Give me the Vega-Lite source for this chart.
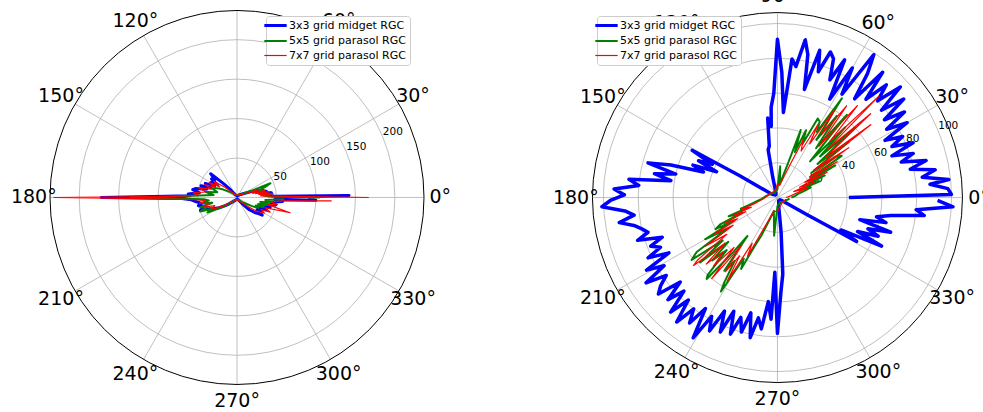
{
"$schema":"https://vega.github.io/schema/vega-lite/v6.json",
"width":983,"height":412,"autosize":{"type":"none"},"padding":0,
"config":{"view":{"stroke":null},"font":"DejaVu Sans","text":{"font":"DejaVu Sans","color":"#000000"}},
"datasets":{
"gL":[{"v":50},{"v":100},{"v":150},{"v":200}],
"gR":[{"v":20},{"v":40},{"v":60},{"v":80},{"v":100}],
"sp":[{"a":0},{"a":30},{"a":60},{"a":90},{"a":120},{"a":150},{"a":180},{"a":210},{"a":240},{"a":270},{"a":300},{"a":330}],
"lab":[{"a":0,"t":"0°"},{"a":30,"t":"30°"},{"a":60,"t":"60°"},{"a":90,"t":"90°"},{"a":120,"t":"120°"},{"a":150,"t":"150°"},{"a":180,"t":"180°"},{"a":210,"t":"210°"},{"a":240,"t":"240°"},{"a":270,"t":"270°"},{"a":300,"t":"300°"},{"a":330,"t":"330°"}],
"d":[
{"p":"L","s":"b","a":0,"r":50},{"p":"L","s":"b","a":1,"r":142},{"p":"L","s":"b","a":2,"r":48},{"p":"L","s":"b","a":4,"r":40},{"p":"L","s":"b","a":6,"r":36},{"p":"L","s":"b","a":8,"r":44},{"p":"L","s":"b","a":10,"r":30},{"p":"L","s":"b","a":12,"r":38},{"p":"L","s":"b","a":14,"r":26},{"p":"L","s":"b","a":16,"r":34},{"p":"L","s":"b","a":18,"r":22},{"p":"L","s":"b","a":20,"r":28},{"p":"L","s":"b","a":24,"r":16},{"p":"L","s":"b","a":30,"r":10},{"p":"L","s":"b","a":40,"r":6},{"p":"L","s":"b","a":60,"r":3},{"p":"L","s":"b","a":90,"r":2},{"p":"L","s":"b","a":120,"r":4},{"p":"L","s":"b","a":130,"r":12},{"p":"L","s":"b","a":134,"r":24},{"p":"L","s":"b","a":138,"r":45},{"p":"L","s":"b","a":141,"r":36},{"p":"L","s":"b","a":144,"r":40},{"p":"L","s":"b","a":147,"r":30},{"p":"L","s":"b","a":150,"r":38},{"p":"L","s":"b","a":153,"r":32},{"p":"L","s":"b","a":156,"r":44},{"p":"L","s":"b","a":159,"r":36},{"p":"L","s":"b","a":162,"r":48},{"p":"L","s":"b","a":165,"r":40},{"p":"L","s":"b","a":168,"r":54},{"p":"L","s":"b","a":170,"r":57},{"p":"L","s":"b","a":173,"r":48},{"p":"L","s":"b","a":176,"r":62},{"p":"L","s":"b","a":178,"r":60},{"p":"L","s":"b","a":179,"r":90},{"p":"L","s":"b","a":180,"r":172},{"p":"L","s":"b","a":181,"r":70},{"p":"L","s":"b","a":183,"r":58},{"p":"L","s":"b","a":186,"r":52},{"p":"L","s":"b","a":189,"r":46},{"p":"L","s":"b","a":192,"r":50},{"p":"L","s":"b","a":195,"r":42},{"p":"L","s":"b","a":199,"r":49},{"p":"L","s":"b","a":202,"r":38},{"p":"L","s":"b","a":206,"r":32},{"p":"L","s":"b","a":210,"r":26},{"p":"L","s":"b","a":215,"r":18},{"p":"L","s":"b","a":220,"r":12},{"p":"L","s":"b","a":230,"r":6},{"p":"L","s":"b","a":250,"r":3},{"p":"L","s":"b","a":280,"r":2},{"p":"L","s":"b","a":300,"r":4},{"p":"L","s":"b","a":310,"r":10},{"p":"L","s":"b","a":315,"r":22},{"p":"L","s":"b","a":320,"r":30},{"p":"L","s":"b","a":323,"r":34},{"p":"L","s":"b","a":325,"r":39},{"p":"L","s":"b","a":328,"r":30},{"p":"L","s":"b","a":331,"r":36},{"p":"L","s":"b","a":334,"r":28},{"p":"L","s":"b","a":337,"r":40},{"p":"L","s":"b","a":340,"r":34},{"p":"L","s":"b","a":343,"r":44},{"p":"L","s":"b","a":346,"r":38},{"p":"L","s":"b","a":349,"r":50},{"p":"L","s":"b","a":352,"r":44},{"p":"L","s":"b","a":355,"r":58},{"p":"L","s":"b","a":357,"r":48},{"p":"L","s":"b","a":358,"r":100},{"p":"L","s":"b","a":359,"r":90},
{"p":"L","s":"g","a":0,"r":105},{"p":"L","s":"g","a":2,"r":40},{"p":"L","s":"g","a":4,"r":34},{"p":"L","s":"g","a":6,"r":44},{"p":"L","s":"g","a":8,"r":30},{"p":"L","s":"g","a":10,"r":38},{"p":"L","s":"g","a":12,"r":28},{"p":"L","s":"g","a":15,"r":36},{"p":"L","s":"g","a":18,"r":30},{"p":"L","s":"g","a":21,"r":40},{"p":"L","s":"g","a":23,"r":46},{"p":"L","s":"g","a":25,"r":20},{"p":"L","s":"g","a":30,"r":12},{"p":"L","s":"g","a":40,"r":6},{"p":"L","s":"g","a":60,"r":4},{"p":"L","s":"g","a":90,"r":3},{"p":"L","s":"g","a":120,"r":4},{"p":"L","s":"g","a":140,"r":10},{"p":"L","s":"g","a":150,"r":20},{"p":"L","s":"g","a":155,"r":28},{"p":"L","s":"g","a":160,"r":34},{"p":"L","s":"g","a":165,"r":26},{"p":"L","s":"g","a":170,"r":40},{"p":"L","s":"g","a":174,"r":30},{"p":"L","s":"g","a":177,"r":48},{"p":"L","s":"g","a":180,"r":135},{"p":"L","s":"g","a":183,"r":42},{"p":"L","s":"g","a":186,"r":36},{"p":"L","s":"g","a":189,"r":44},{"p":"L","s":"g","a":192,"r":32},{"p":"L","s":"g","a":195,"r":48},{"p":"L","s":"g","a":198,"r":40},{"p":"L","s":"g","a":201,"r":50},{"p":"L","s":"g","a":204,"r":36},{"p":"L","s":"g","a":207,"r":42},{"p":"L","s":"g","a":210,"r":30},{"p":"L","s":"g","a":214,"r":20},{"p":"L","s":"g","a":220,"r":10},{"p":"L","s":"g","a":240,"r":4},{"p":"L","s":"g","a":270,"r":3},{"p":"L","s":"g","a":300,"r":4},{"p":"L","s":"g","a":320,"r":10},{"p":"L","s":"g","a":330,"r":22},{"p":"L","s":"g","a":334,"r":30},{"p":"L","s":"g","a":337,"r":26},{"p":"L","s":"g","a":340,"r":36},{"p":"L","s":"g","a":343,"r":28},{"p":"L","s":"g","a":346,"r":40},{"p":"L","s":"g","a":349,"r":30},{"p":"L","s":"g","a":352,"r":44},{"p":"L","s":"g","a":355,"r":36},{"p":"L","s":"g","a":358,"r":60},
{"p":"L","s":"r","a":0,"r":167},{"p":"L","s":"r","a":2,"r":50},{"p":"L","s":"r","a":4,"r":30},{"p":"L","s":"r","a":6,"r":46},{"p":"L","s":"r","a":8,"r":28},{"p":"L","s":"r","a":10,"r":42},{"p":"L","s":"r","a":12,"r":24},{"p":"L","s":"r","a":14,"r":36},{"p":"L","s":"r","a":17,"r":20},{"p":"L","s":"r","a":20,"r":30},{"p":"L","s":"r","a":24,"r":14},{"p":"L","s":"r","a":30,"r":8},{"p":"L","s":"r","a":45,"r":5},{"p":"L","s":"r","a":70,"r":3},{"p":"L","s":"r","a":100,"r":3},{"p":"L","s":"r","a":130,"r":6},{"p":"L","s":"r","a":140,"r":20},{"p":"L","s":"r","a":145,"r":36},{"p":"L","s":"r","a":148,"r":26},{"p":"L","s":"r","a":152,"r":40},{"p":"L","s":"r","a":155,"r":30},{"p":"L","s":"r","a":158,"r":44},{"p":"L","s":"r","a":162,"r":34},{"p":"L","s":"r","a":166,"r":50},{"p":"L","s":"r","a":170,"r":40},{"p":"L","s":"r","a":174,"r":56},{"p":"L","s":"r","a":177,"r":48},{"p":"L","s":"r","a":179,"r":80},{"p":"L","s":"r","a":180,"r":232},{"p":"L","s":"r","a":181,"r":100},{"p":"L","s":"r","a":183,"r":52},{"p":"L","s":"r","a":186,"r":40},{"p":"L","s":"r","a":189,"r":48},{"p":"L","s":"r","a":192,"r":36},{"p":"L","s":"r","a":196,"r":44},{"p":"L","s":"r","a":200,"r":30},{"p":"L","s":"r","a":205,"r":36},{"p":"L","s":"r","a":210,"r":22},{"p":"L","s":"r","a":220,"r":10},{"p":"L","s":"r","a":240,"r":4},{"p":"L","s":"r","a":280,"r":3},{"p":"L","s":"r","a":310,"r":8},{"p":"L","s":"r","a":320,"r":18},{"p":"L","s":"r","a":325,"r":30},{"p":"L","s":"r","a":330,"r":40},{"p":"L","s":"r","a":333,"r":34},{"p":"L","s":"r","a":336,"r":46},{"p":"L","s":"r","a":340,"r":38},{"p":"L","s":"r","a":344,"r":70},{"p":"L","s":"r","a":347,"r":40},{"p":"L","s":"r","a":350,"r":52},{"p":"L","s":"r","a":353,"r":44},{"p":"L","s":"r","a":356,"r":60},{"p":"L","s":"r","a":358,"r":120},
{"p":"R","s":"b","a":0,"r":41},{"p":"R","s":"b","a":1,"r":100},{"p":"R","s":"b","a":3,"r":98},{"p":"R","s":"b","a":5,"r":88},{"p":"R","s":"b","a":6,"r":99},{"p":"R","s":"b","a":8,"r":84},{"p":"R","s":"b","a":10,"r":92},{"p":"R","s":"b","a":12,"r":78},{"p":"R","s":"b","a":14,"r":88},{"p":"R","s":"b","a":16,"r":74},{"p":"R","s":"b","a":18,"r":82},{"p":"R","s":"b","a":20,"r":70},{"p":"R","s":"b","a":22,"r":84},{"p":"R","s":"b","a":24,"r":72},{"p":"R","s":"b","a":26,"r":80},{"p":"R","s":"b","a":28,"r":70},{"p":"R","s":"b","a":30,"r":86},{"p":"R","s":"b","a":32,"r":74},{"p":"R","s":"b","a":34,"r":88},{"p":"R","s":"b","a":36,"r":76},{"p":"R","s":"b","a":38,"r":92},{"p":"R","s":"b","a":40,"r":78},{"p":"R","s":"b","a":42,"r":95},{"p":"R","s":"b","a":44,"r":80},{"p":"R","s":"b","a":46,"r":90},{"p":"R","s":"b","a":48,"r":76},{"p":"R","s":"b","a":50,"r":94},{"p":"R","s":"b","a":52,"r":72},{"p":"R","s":"b","a":54,"r":88},{"p":"R","s":"b","a":56,"r":99},{"p":"R","s":"b","a":58,"r":70},{"p":"R","s":"b","a":60,"r":86},{"p":"R","s":"b","a":62,"r":64},{"p":"R","s":"b","a":64,"r":88},{"p":"R","s":"b","a":66,"r":74},{"p":"R","s":"b","a":68,"r":86},{"p":"R","s":"b","a":70,"r":89},{"p":"R","s":"b","a":72,"r":76},{"p":"R","s":"b","a":74,"r":88},{"p":"R","s":"b","a":76,"r":64},{"p":"R","s":"b","a":78,"r":84},{"p":"R","s":"b","a":80,"r":92},{"p":"R","s":"b","a":82,"r":76},{"p":"R","s":"b","a":84,"r":80},{"p":"R","s":"b","a":86,"r":49},{"p":"R","s":"b","a":88,"r":72},{"p":"R","s":"b","a":90,"r":91},{"p":"R","s":"b","a":92,"r":60},{"p":"R","s":"b","a":94,"r":52},{"p":"R","s":"b","a":95,"r":41},{"p":"R","s":"b","a":97,"r":46},{"p":"R","s":"b","a":99,"r":30},{"p":"R","s":"b","a":101,"r":28},{"p":"R","s":"b","a":103,"r":12},{"p":"R","s":"b","a":105,"r":5},{"p":"R","s":"b","a":110,"r":3},{"p":"R","s":"b","a":115,"r":2},{"p":"R","s":"b","a":120,"r":3},{"p":"R","s":"b","a":125,"r":2},{"p":"R","s":"b","a":130,"r":3},{"p":"R","s":"b","a":135,"r":2},{"p":"R","s":"b","a":140,"r":3},{"p":"R","s":"b","a":145,"r":3},{"p":"R","s":"b","a":149,"r":4},{"p":"R","s":"b","a":150,"r":25},{"p":"R","s":"b","a":151,"r":56},{"p":"R","s":"b","a":153,"r":42},{"p":"R","s":"b","a":155,"r":50},{"p":"R","s":"b","a":157,"r":38},{"p":"R","s":"b","a":159,"r":52},{"p":"R","s":"b","a":161,"r":45},{"p":"R","s":"b","a":163,"r":64},{"p":"R","s":"b","a":165,"r":77},{"p":"R","s":"b","a":167,"r":60},{"p":"R","s":"b","a":169,"r":72},{"p":"R","s":"b","a":171,"r":62},{"p":"R","s":"b","a":173,"r":86},{"p":"R","s":"b","a":175,"r":80},{"p":"R","s":"b","a":177,"r":94},{"p":"R","s":"b","a":179,"r":88},{"p":"R","s":"b","a":181,"r":96},{"p":"R","s":"b","a":183,"r":101},{"p":"R","s":"b","a":185,"r":88},{"p":"R","s":"b","a":187,"r":83},{"p":"R","s":"b","a":189,"r":92},{"p":"R","s":"b","a":191,"r":84},{"p":"R","s":"b","a":193,"r":80},{"p":"R","s":"b","a":195,"r":77},{"p":"R","s":"b","a":197,"r":84},{"p":"R","s":"b","a":199,"r":70},{"p":"R","s":"b","a":201,"r":78},{"p":"R","s":"b","a":203,"r":73},{"p":"R","s":"b","a":205,"r":82},{"p":"R","s":"b","a":207,"r":70},{"p":"R","s":"b","a":209,"r":86},{"p":"R","s":"b","a":211,"r":76},{"p":"R","s":"b","a":213,"r":90},{"p":"R","s":"b","a":215,"r":78},{"p":"R","s":"b","a":217,"r":84},{"p":"R","s":"b","a":219,"r":88},{"p":"R","s":"b","a":221,"r":74},{"p":"R","s":"b","a":223,"r":86},{"p":"R","s":"b","a":225,"r":76},{"p":"R","s":"b","a":227,"r":90},{"p":"R","s":"b","a":229,"r":78},{"p":"R","s":"b","a":231,"r":92},{"p":"R","s":"b","a":233,"r":80},{"p":"R","s":"b","a":235,"r":88},{"p":"R","s":"b","a":237,"r":76},{"p":"R","s":"b","a":239,"r":94},{"p":"R","s":"b","a":241,"r":78},{"p":"R","s":"b","a":243,"r":86},{"p":"R","s":"b","a":245,"r":72},{"p":"R","s":"b","a":247,"r":84},{"p":"R","s":"b","a":249,"r":70},{"p":"R","s":"b","a":251,"r":83},{"p":"R","s":"b","a":253,"r":72},{"p":"R","s":"b","a":255,"r":80},{"p":"R","s":"b","a":257,"r":68},{"p":"R","s":"b","a":259,"r":82},{"p":"R","s":"b","a":261,"r":70},{"p":"R","s":"b","a":263,"r":76},{"p":"R","s":"b","a":265,"r":60},{"p":"R","s":"b","a":267,"r":70},{"p":"R","s":"b","a":268,"r":43},{"p":"R","s":"b","a":270,"r":78},{"p":"R","s":"b","a":272,"r":55},{"p":"R","s":"b","a":274,"r":44},{"p":"R","s":"b","a":276,"r":20},{"p":"R","s":"b","a":278,"r":5},{"p":"R","s":"b","a":285,"r":3},{"p":"R","s":"b","a":290,"r":2},{"p":"R","s":"b","a":295,"r":3},{"p":"R","s":"b","a":300,"r":2},{"p":"R","s":"b","a":305,"r":3},{"p":"R","s":"b","a":310,"r":2},{"p":"R","s":"b","a":315,"r":3},{"p":"R","s":"b","a":320,"r":2},{"p":"R","s":"b","a":325,"r":3},{"p":"R","s":"b","a":330,"r":20},{"p":"R","s":"b","a":331,"r":52},{"p":"R","s":"b","a":333,"r":41},{"p":"R","s":"b","a":335,"r":66},{"p":"R","s":"b","a":337,"r":50},{"p":"R","s":"b","a":339,"r":62},{"p":"R","s":"b","a":341,"r":55},{"p":"R","s":"b","a":343,"r":68},{"p":"R","s":"b","a":345,"r":49},{"p":"R","s":"b","a":347,"r":64},{"p":"R","s":"b","a":349,"r":58},{"p":"R","s":"b","a":351,"r":66},{"p":"R","s":"b","a":353,"r":85},{"p":"R","s":"b","a":355,"r":80},{"p":"R","s":"b","a":357,"r":101},{"p":"R","s":"b","a":359,"r":92},
{"p":"R","s":"g","a":0,"r":8},{"p":"R","s":"g","a":5,"r":10},{"p":"R","s":"g","a":10,"r":12},{"p":"R","s":"g","a":14,"r":16},{"p":"R","s":"g","a":17,"r":20},{"p":"R","s":"g","a":19,"r":14},{"p":"R","s":"g","a":21,"r":26},{"p":"R","s":"g","a":23,"r":18},{"p":"R","s":"g","a":25,"r":30},{"p":"R","s":"g","a":27,"r":20},{"p":"R","s":"g","a":29,"r":38},{"p":"R","s":"g","a":31,"r":22},{"p":"R","s":"g","a":33,"r":44},{"p":"R","s":"g","a":35,"r":41},{"p":"R","s":"g","a":36,"r":24},{"p":"R","s":"g","a":38,"r":52},{"p":"R","s":"g","a":40,"r":30},{"p":"R","s":"g","a":42,"r":60},{"p":"R","s":"g","a":44,"r":34},{"p":"R","s":"g","a":46,"r":56},{"p":"R","s":"g","a":48,"r":28},{"p":"R","s":"g","a":50,"r":62},{"p":"R","s":"g","a":52,"r":36},{"p":"R","s":"g","a":54,"r":58},{"p":"R","s":"g","a":56,"r":40},{"p":"R","s":"g","a":57,"r":68},{"p":"R","s":"g","a":59,"r":44},{"p":"R","s":"g","a":61,"r":50},{"p":"R","s":"g","a":63,"r":51},{"p":"R","s":"g","a":65,"r":34},{"p":"R","s":"g","a":67,"r":42},{"p":"R","s":"g","a":69,"r":28},{"p":"R","s":"g","a":71,"r":41},{"p":"R","s":"g","a":73,"r":20},{"p":"R","s":"g","a":75,"r":14},{"p":"R","s":"g","a":80,"r":8},{"p":"R","s":"g","a":85,"r":18},{"p":"R","s":"g","a":90,"r":5},{"p":"R","s":"g","a":100,"r":4},{"p":"R","s":"g","a":120,"r":3},{"p":"R","s":"g","a":140,"r":4},{"p":"R","s":"g","a":160,"r":5},{"p":"R","s":"g","a":175,"r":7},{"p":"R","s":"g","a":185,"r":9},{"p":"R","s":"g","a":190,"r":12},{"p":"R","s":"g","a":194,"r":16},{"p":"R","s":"g","a":197,"r":22},{"p":"R","s":"g","a":199,"r":18},{"p":"R","s":"g","a":201,"r":30},{"p":"R","s":"g","a":203,"r":22},{"p":"R","s":"g","a":205,"r":36},{"p":"R","s":"g","a":207,"r":40},{"p":"R","s":"g","a":208,"r":28},{"p":"R","s":"g","a":210,"r":48},{"p":"R","s":"g","a":212,"r":34},{"p":"R","s":"g","a":214,"r":56},{"p":"R","s":"g","a":216,"r":61},{"p":"R","s":"g","a":218,"r":40},{"p":"R","s":"g","a":220,"r":58},{"p":"R","s":"g","a":222,"r":38},{"p":"R","s":"g","a":224,"r":52},{"p":"R","s":"g","a":226,"r":42},{"p":"R","s":"g","a":228,"r":60},{"p":"R","s":"g","a":229,"r":62},{"p":"R","s":"g","a":231,"r":40},{"p":"R","s":"g","a":232,"r":28},{"p":"R","s":"g","a":234,"r":52},{"p":"R","s":"g","a":236,"r":44},{"p":"R","s":"g","a":238,"r":58},{"p":"R","s":"g","a":239,"r":63},{"p":"R","s":"g","a":241,"r":40},{"p":"R","s":"g","a":243,"r":46},{"p":"R","s":"g","a":245,"r":30},{"p":"R","s":"g","a":247,"r":24},{"p":"R","s":"g","a":250,"r":14},{"p":"R","s":"g","a":255,"r":8},{"p":"R","s":"g","a":265,"r":22},{"p":"R","s":"g","a":270,"r":5},{"p":"R","s":"g","a":280,"r":4},{"p":"R","s":"g","a":300,"r":3},{"p":"R","s":"g","a":320,"r":4},{"p":"R","s":"g","a":340,"r":5},{"p":"R","s":"g","a":355,"r":7},
{"p":"R","s":"r","a":0,"r":5},{"p":"R","s":"r","a":8,"r":8},{"p":"R","s":"r","a":14,"r":12},{"p":"R","s":"r","a":18,"r":18},{"p":"R","s":"r","a":20,"r":10},{"p":"R","s":"r","a":23,"r":24},{"p":"R","s":"r","a":25,"r":14},{"p":"R","s":"r","a":27,"r":32},{"p":"R","s":"r","a":29,"r":18},{"p":"R","s":"r","a":31,"r":40},{"p":"R","s":"r","a":33,"r":22},{"p":"R","s":"r","a":35,"r":50},{"p":"R","s":"r","a":37,"r":26},{"p":"R","s":"r","a":38,"r":68},{"p":"R","s":"r","a":40,"r":36},{"p":"R","s":"r","a":42,"r":72},{"p":"R","s":"r","a":44,"r":40},{"p":"R","s":"r","a":45,"r":82},{"p":"R","s":"r","a":47,"r":44},{"p":"R","s":"r","a":49,"r":70},{"p":"R","s":"r","a":51,"r":38},{"p":"R","s":"r","a":53,"r":66},{"p":"R","s":"r","a":55,"r":44},{"p":"R","s":"r","a":57,"r":60},{"p":"R","s":"r","a":59,"r":36},{"p":"R","s":"r","a":61,"r":48},{"p":"R","s":"r","a":63,"r":30},{"p":"R","s":"r","a":66,"r":36},{"p":"R","s":"r","a":69,"r":20},{"p":"R","s":"r","a":73,"r":12},{"p":"R","s":"r","a":80,"r":7},{"p":"R","s":"r","a":90,"r":8},{"p":"R","s":"r","a":100,"r":5},{"p":"R","s":"r","a":120,"r":4},{"p":"R","s":"r","a":150,"r":5},{"p":"R","s":"r","a":170,"r":6},{"p":"R","s":"r","a":185,"r":8},{"p":"R","s":"r","a":190,"r":10},{"p":"R","s":"r","a":195,"r":14},{"p":"R","s":"r","a":198,"r":22},{"p":"R","s":"r","a":200,"r":16},{"p":"R","s":"r","a":202,"r":28},{"p":"R","s":"r","a":204,"r":20},{"p":"R","s":"r","a":206,"r":34},{"p":"R","s":"r","a":208,"r":26},{"p":"R","s":"r","a":210,"r":42},{"p":"R","s":"r","a":212,"r":30},{"p":"R","s":"r","a":214,"r":50},{"p":"R","s":"r","a":216,"r":36},{"p":"R","s":"r","a":218,"r":58},{"p":"R","s":"r","a":219,"r":62},{"p":"R","s":"r","a":221,"r":40},{"p":"R","s":"r","a":223,"r":56},{"p":"R","s":"r","a":225,"r":44},{"p":"R","s":"r","a":227,"r":54},{"p":"R","s":"r","a":229,"r":38},{"p":"R","s":"r","a":231,"r":60},{"p":"R","s":"r","a":233,"r":34},{"p":"R","s":"r","a":235,"r":52},{"p":"R","s":"r","a":237,"r":40},{"p":"R","s":"r","a":239,"r":56},{"p":"R","s":"r","a":241,"r":30},{"p":"R","s":"r","a":243,"r":38},{"p":"R","s":"r","a":246,"r":20},{"p":"R","s":"r","a":250,"r":12},{"p":"R","s":"r","a":256,"r":8},{"p":"R","s":"r","a":270,"r":8},{"p":"R","s":"r","a":290,"r":5},{"p":"R","s":"r","a":320,"r":4},{"p":"R","s":"r","a":350,"r":5}
]},
"layer":[
{"layer":[
 {"data":{"name":"gL"},"mark":{"type":"arc","filled":false,"stroke":"#b0b0b0","strokeWidth":0.8,"theta":0,"theta2":6.2832},
  "encoding":{"x":{"datum":0,"type":"quantitative","scale":{"domain":[-300.4,945.5],"nice":false,"zero":false},"axis":null},"y":{"datum":0,"type":"quantitative","scale":{"domain":[-271.9,250.3],"nice":false,"zero":false},"axis":null},"radius":{"field":"v","type":"quantitative","stack":null,"scale":{"type":"linear","domain":[0,237],"range":[0,187],"nice":false,"zero":true}}}},
 {"data":{"name":"sp"},"transform":[{"calculate":"0","as":"z"},{"calculate":"237*cos(datum.a*PI/180)","as":"ex"},{"calculate":"237*sin(datum.a*PI/180)","as":"ey"}],"mark":{"type":"rule","stroke":"#b0b0b0","strokeWidth":0.8},
  "encoding":{"x":{"field":"z","type":"quantitative"},"y":{"field":"z","type":"quantitative"},"x2":{"field":"ex"},"y2":{"field":"ey"}}},
 {"data":{"values":[{"v":237}]},"mark":{"type":"arc","filled":false,"stroke":"#000000","strokeWidth":1,"theta":0,"theta2":6.2832},
  "encoding":{"x":{"datum":0,"type":"quantitative"},"y":{"datum":0,"type":"quantitative"},"radius":{"field":"v","type":"quantitative","stack":null}}},
 {"data":{"name":"gL"},"transform":[{"calculate":"datum.v*cos(22.5*PI/180)","as":"lx"},{"calculate":"datum.v*sin(22.5*PI/180)","as":"ly"}],"mark":{"type":"text","align":"left","baseline":"bottom","fontSize":10.5},
  "encoding":{"x":{"field":"lx","type":"quantitative"},"y":{"field":"ly","type":"quantitative"},"text":{"field":"v","type":"quantitative"}}},
 {"data":{"name":"lab"},"transform":[{"calculate":"1.087*237*cos(datum.a*PI/180)","as":"lx"},{"calculate":"1.087*237*sin(datum.a*PI/180)","as":"ly"}],"mark":{"type":"text","align":"center","baseline":"middle","fontSize":19},
  "encoding":{"x":{"field":"lx","type":"quantitative"},"y":{"field":"ly","type":"quantitative"},"text":{"field":"t","type":"nominal"}}},
 {"data":{"name":"d"},"transform":[{"filter":"datum.p=='L'"},{"calculate":"datum.r*cos(datum.a*PI/180)","as":"x"},{"calculate":"datum.r*sin(datum.a*PI/180)","as":"y"}],
  "mark":{"type":"line","strokeJoin":"round"},
  "encoding":{"x":{"field":"x","type":"quantitative"},"y":{"field":"y","type":"quantitative"},"order":{"field":"a","type":"quantitative"},
   "strokeWidth":{"condition":[{"test":"datum.s=='b'","value":3},{"test":"datum.s=='g'","value":2}],"value":1.2},
   "color":{"field":"s","type":"nominal","scale":{"domain":["b","g","r"],"range":["#0000ff","#008000","#ff0000"]},"legend":{"orient":"none","legendX":266,"legendY":16,"title":null,"symbolType":"stroke","symbolSize":500,"labelExpr":"datum.label=='b'?'3x3 grid midget RGC':datum.label=='g'?'5x5 grid parasol RGC':'7x7 grid parasol RGC'","labelFontSize":11,"labelFont":"DejaVu Sans","labelColor":"#000000","strokeColor":"#cccccc","fillColor":"#ffffff","padding":4,"cornerRadius":3,"rowPadding":2.5,"labelOffset":8,
     "encode":{"symbols":{"update":{"strokeWidth":{"signal":"datum.value=='b'?3:datum.value=='g'?2:1.2"}}}}}}}}
]},
{"layer":[
 {"data":{"name":"gR"},"mark":{"type":"arc","filled":false,"stroke":"#b0b0b0","strokeWidth":0.8,"theta":0,"theta2":6.2832},
  "encoding":{"x":{"datum":0,"type":"quantitative","scale":{"domain":[-446.7,118.1],"nice":false,"zero":false},"axis":null},"y":{"datum":0,"type":"quantitative","scale":{"domain":[-123.2,113.5],"nice":false,"zero":false},"axis":null},"radius":{"field":"v","type":"quantitative","stack":null,"scale":{"type":"linear","domain":[0,106.3],"range":[0,185],"nice":false,"zero":true}}}},
 {"data":{"name":"sp"},"transform":[{"calculate":"0","as":"z"},{"calculate":"106.3*cos(datum.a*PI/180)","as":"ex"},{"calculate":"106.3*sin(datum.a*PI/180)","as":"ey"}],"mark":{"type":"rule","stroke":"#b0b0b0","strokeWidth":0.8},
  "encoding":{"x":{"field":"z","type":"quantitative"},"y":{"field":"z","type":"quantitative"},"x2":{"field":"ex"},"y2":{"field":"ey"}}},
 {"data":{"values":[{"v":106.3}]},"mark":{"type":"arc","filled":false,"stroke":"#000000","strokeWidth":1,"theta":0,"theta2":6.2832},
  "encoding":{"x":{"datum":0,"type":"quantitative"},"y":{"datum":0,"type":"quantitative"},"radius":{"field":"v","type":"quantitative","stack":null}}},
 {"data":{"name":"gR"},"transform":[{"calculate":"datum.v*cos(22.5*PI/180)","as":"lx"},{"calculate":"datum.v*sin(22.5*PI/180)","as":"ly"}],"mark":{"type":"text","align":"left","baseline":"bottom","fontSize":10.5},
  "encoding":{"x":{"field":"lx","type":"quantitative"},"y":{"field":"ly","type":"quantitative"},"text":{"field":"v","type":"quantitative"}}},
 {"data":{"name":"lab"},"transform":[{"calculate":"1.09*106.3*cos(datum.a*PI/180)","as":"lx"},{"calculate":"1.09*106.3*sin(datum.a*PI/180)","as":"ly"}],"mark":{"type":"text","align":"center","baseline":"middle","fontSize":19},
  "encoding":{"x":{"field":"lx","type":"quantitative"},"y":{"field":"ly","type":"quantitative"},"text":{"field":"t","type":"nominal"}}},
 {"data":{"name":"d"},"transform":[{"filter":"datum.p=='R'"},{"calculate":"datum.r*cos(datum.a*PI/180)","as":"x"},{"calculate":"datum.r*sin(datum.a*PI/180)","as":"y"}],
  "mark":{"type":"line","strokeJoin":"round"},
  "encoding":{"x":{"field":"x","type":"quantitative"},"y":{"field":"y","type":"quantitative"},"order":{"field":"a","type":"quantitative"},
   "strokeWidth":{"condition":[{"test":"datum.s=='b'","value":3.5},{"test":"datum.s=='g'","value":2}],"value":1.2},
   "color":{"field":"s","type":"nominal","scale":{"domain":["b","g","r"],"range":["#0000ff","#008000","#ff0000"]},"legend":{"orient":"none","legendX":597,"legendY":16,"title":null,"symbolType":"stroke","symbolSize":500,"labelExpr":"datum.label=='b'?'3x3 grid midget RGC':datum.label=='g'?'5x5 grid parasol RGC':'7x7 grid parasol RGC'","labelFontSize":11,"labelFont":"DejaVu Sans","labelColor":"#000000","strokeColor":"#cccccc","fillColor":"#ffffff","padding":4,"cornerRadius":3,"rowPadding":2.5,"labelOffset":8,
     "encode":{"symbols":{"update":{"strokeWidth":{"signal":"datum.value=='b'?3:datum.value=='g'?2:1.2"}}}}}}}}
]}
],
"resolve":{"scale":{"x":"independent","y":"independent","radius":"independent","color":"independent"},"legend":{"color":"independent"}}
}
